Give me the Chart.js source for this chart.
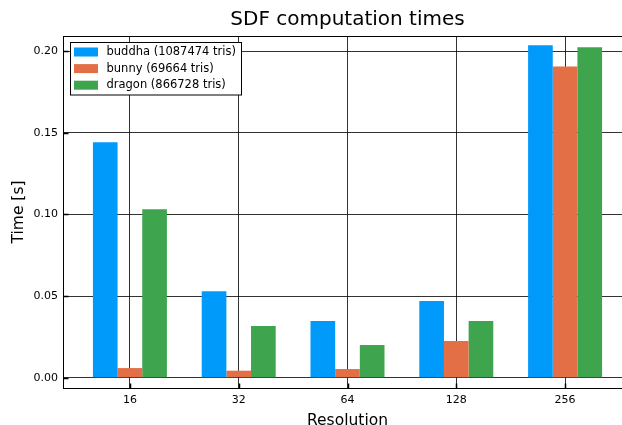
<!DOCTYPE html>
<html>
<head>
<meta charset="utf-8">
<script src="https://cdn.jsdelivr.net/npm/chart.js@4"></script>
<style>
    html, body { margin: 0; padding: 0; overflow: hidden; background: #fff; }
    #wrap { width: 640px; height: 430px; }
</style>
</head>
<body>
<div id="wrap"><canvas id="sdfChart" width="640" height="430"></canvas></div>
<script>
// Data
const resolutions = ['16', '32', '64', '128', '256'];
const seriesNames = ['buddha (1087474 tris)', 'bunny (69664 tris)', 'dragon (866728 tris)'];
const buddhaTimes = [0.1442, 0.0530, 0.0347, 0.0469, 0.2035];
const bunnyTimes = [0.0059, 0.0043, 0.0053, 0.0224, 0.1906];
const dragonTimes = [0.1032, 0.0316, 0.0200, 0.0347, 0.2023];
const yTicks = [0.00, 0.05, 0.10, 0.15, 0.20];

const colors = ['#009AFA', '#E26F46', '#3EA44E'];
const fontFamily = '"DejaVu Sans", sans-serif';

function toPoints(values) {
    return values.map((v, i) => ({ x: i + 1, y: v }));
}

// Frame, inward tick marks and the boxed legend
const framePlugin = {
    id: 'frame',
    afterDraw(chart) {
        const ctx = chart.ctx;
        const area = chart.chartArea;
        const xScale = chart.scales.x;
        const yScale = chart.scales.y;
        ctx.save();
        ctx.strokeStyle = '#000';
        ctx.lineWidth = 1;
        const l = Math.round(area.left) + 0.5, t = Math.round(area.top) + 0.5;
        const r = Math.round(area.right) + 0.5, b = Math.round(area.bottom) + 0.5;
        ctx.strokeRect(l, t, r - l, b - t);

        ctx.lineWidth = 1.5;
        ctx.beginPath();
        yTicks.forEach(v => {
            const y = Math.round(yScale.getPixelForValue(v)) + 0.5;
            ctx.moveTo(l, y); ctx.lineTo(l + 5, y);
        });
        resolutions.forEach((_, i) => {
            const x = Math.round(xScale.getPixelForValue(i + 1)) + 0.5;
            ctx.moveTo(x, b); ctx.lineTo(x, b - 5);
        });
        ctx.stroke();

        // legend
        const lx = 70.5, ly = 42.5, lw = 171, lh = 52.5;
        ctx.fillStyle = '#fff';
        ctx.fillRect(lx, ly, lw, lh);
        ctx.lineWidth = 1;
        ctx.strokeStyle = '#000';
        ctx.strokeRect(lx, ly, lw, lh);
        ctx.font = '11.5px ' + fontFamily;
        ctx.textBaseline = 'middle';
        chart.data.datasets.forEach((ds, i) => {
            const cy = 52 + i * 16.6;
            ctx.fillStyle = ds.backgroundColor;
            ctx.fillRect(74, cy - 4.5, 24, 9);
            ctx.fillStyle = '#000';
            ctx.fillText(ds.label, 106.5, cy);
        });
        ctx.restore();
    }
};

const ctx = document.getElementById('sdfChart').getContext('2d');
new Chart(ctx, {
    type: 'bar',
    data: {
        datasets: [
            { label: seriesNames[0], data: toPoints(buddhaTimes), backgroundColor: colors[0] },
            { label: seriesNames[1], data: toPoints(bunnyTimes), backgroundColor: colors[1] },
            { label: seriesNames[2], data: toPoints(dragonTimes), backgroundColor: colors[2] }
        ]
    },
    options: {
        responsive: false,
        animation: false,
        layout: { padding: { left: 0, right: 8, top: 0, bottom: 0 } },
        datasets: {
            bar: { barPercentage: 1, categoryPercentage: 0.68, borderWidth: 0 }
        },
        scales: {
            x: {
                type: 'linear',
                offset: false,
                min: 0.385,
                max: 5.615,
                afterBuildTicks: scale => { scale.ticks = resolutions.map((_, i) => ({ value: i + 1 })); },
                afterFit: scale => { scale.height = 42; },
                grid: { color: 'rgba(0,0,0,0.8)', lineWidth: 1, drawTicks: false, offset: false },
                border: { display: false },
                ticks: {
                    padding: 6,
                    color: '#000',
                    maxRotation: 0,
                    font: { family: fontFamily, size: 11 },
                    callback: v => resolutions[Math.round(v) - 1]
                },
                title: {
                    display: true,
                    text: 'Resolution',
                    color: '#000',
                    font: { family: fontFamily, size: 15.5 },
                    padding: { top: 0, bottom: 0 }
                }
            },
            y: {
                min: -0.0063,
                max: 0.2092,
                afterBuildTicks: scale => { scale.ticks = yTicks.map(v => ({ value: v })); },
                afterFit: scale => { scale.width = 63; },
                grid: { color: 'rgba(0,0,0,0.8)', lineWidth: 1, drawTicks: false },
                border: { display: false },
                ticks: {
                    padding: 5,
                    color: '#000',
                    font: { family: fontFamily, size: 11 },
                    callback: v => Number(v).toFixed(2)
                },
                title: {
                    display: true,
                    text: 'Time [s]',
                    color: '#000',
                    font: { family: fontFamily, size: 15.5 },
                    padding: { top: 9.5, bottom: 0 }
                }
            }
        },
        plugins: {
            legend: { display: false },
            tooltip: { enabled: false },
            title: {
                display: true,
                fullSize: false,
                text: 'SDF computation times',
                color: '#000',
                font: { family: fontFamily, size: 20, weight: 'normal' },
                padding: { top: 8, bottom: 4 }
            }
        }
    },
    plugins: [framePlugin]
});
</script>
</body>
</html>
